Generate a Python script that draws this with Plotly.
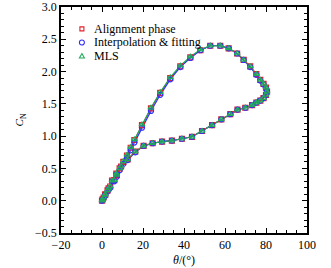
import plotly.graph_objects as go

# Alignment phase (red squares)
theta_align = [0, 0.8, 1.6, 2.7, 4.0, 6.0, 7.2, 8.6, 10.4, 12.2, 14.0, 15.8, 19.5, 23.9, 28.4,
               33.3, 38.2, 43.1, 48.0, 52.8, 57.7, 61.8, 65.9, 69.1, 72.3, 75.3, 77.2, 78.8, 80.0,
               80.5, 80.0, 78.8, 77.2, 75.3, 73.2, 69.9, 66.1, 62.6, 58.2, 53.7, 48.8, 43.9, 39.0,
               34.1, 29.3, 24.7, 20.3, 16.2, 12.5, 9.3, 7.0, 4.9, 3.2, 1.5, 0.3]
cn_align = [0.0, 0.05, 0.10, 0.16, 0.22, 0.32, 0.40, 0.50, 0.60, 0.70, 0.82, 0.94, 1.17, 1.43, 1.67,
            1.90, 2.08, 2.22, 2.33, 2.40, 2.40, 2.36, 2.28, 2.18, 2.08, 1.96, 1.87, 1.81, 1.75,
            1.69, 1.64, 1.59, 1.55, 1.52, 1.48, 1.44, 1.41, 1.34, 1.26, 1.17, 1.08, 0.99, 0.96,
            0.93, 0.915, 0.89, 0.85, 0.76, 0.64, 0.53, 0.42, 0.31, 0.19, 0.09, 0.02]

# Interpolation & fitting (blue circles)
theta_interp = [0, 0.8, 1.6, 2.7, 4.0, 6.0, 7.2, 8.6, 10.4, 12.2, 14.0, 15.8, 19.5, 23.9, 28.4,
                33.3, 38.2, 43.1, 48.0, 52.8, 57.7, 61.8, 65.9, 69.1, 72.3, 75.3, 77.2, 78.8, 80.0,
                80.5, 80.0, 78.8, 77.2, 75.3, 73.2, 69.9, 66.1, 62.6, 58.2, 53.7, 48.8, 43.9, 39.0,
                34.1, 29.3, 24.7, 20.3, 16.2, 12.5, 9.3, 7.0, 4.9, 3.2, 1.5, 0.3]
cn_interp = [0.0, 0.04, 0.09, 0.14, 0.20, 0.30, 0.37, 0.47, 0.57, 0.66, 0.78, 0.90, 1.13, 1.39, 1.64,
             1.88, 2.07, 2.21, 2.33, 2.40, 2.40, 2.36, 2.28, 2.18, 2.07, 1.95, 1.86, 1.80, 1.74,
             1.69, 1.64, 1.59, 1.55, 1.52, 1.48, 1.44, 1.41, 1.34, 1.26, 1.17, 1.08, 0.99, 0.96,
             0.93, 0.915, 0.89, 0.85, 0.75, 0.63, 0.52, 0.41, 0.30, 0.18, 0.08, 0.01]

# MLS (green triangles)
theta_mls = [0, 0.8, 1.6, 2.7, 4.0, 6.0, 7.2, 8.6, 10.4, 12.2, 14.0, 15.8, 19.5, 23.9, 28.4,
             33.3, 38.2, 43.1, 48.0, 52.8, 57.7, 61.8, 65.9, 69.1, 72.3, 75.3, 77.2, 78.8, 80.0,
             80.5, 80.0, 78.8, 77.2, 75.3, 73.2, 69.9, 66.1, 62.6, 58.2, 53.7, 48.8, 43.9, 39.0,
             34.1, 29.3, 24.7, 20.3, 16.2, 12.5, 9.3, 7.0, 4.9, 3.2, 1.5, 0.3]
cn_mls = [0.0, 0.05, 0.10, 0.16, 0.22, 0.32, 0.40, 0.50, 0.61, 0.71, 0.83, 0.95, 1.18, 1.44, 1.68,
          1.91, 2.09, 2.23, 2.34, 2.40, 2.40, 2.36, 2.28, 2.18, 2.08, 1.96, 1.87, 1.81, 1.75,
          1.69, 1.64, 1.59, 1.55, 1.52, 1.48, 1.44, 1.41, 1.34, 1.26, 1.17, 1.08, 0.99, 0.96,
          0.93, 0.915, 0.89, 0.85, 0.76, 0.64, 0.53, 0.42, 0.31, 0.19, 0.09, 0.02]

series_names = ["Alignment phase", "Interpolation & fitting", "MLS"]
x_ticks = [-20, 0, 20, 40, 60, 80, 100]
y_ticks = [-0.5, 0.0, 0.5, 1.0, 1.5, 2.0, 2.5, 3.0]
y_tick_text = ["\u22120.5", "0.0", "0.5", "1.0", "1.5", "2.0", "2.5", "3.0"]
x_title = "<i>θ</i>/(°)"
y_title = "<i>C</i><sub>N</sub>"

colors = ["#e0202a", "#3030ff", "#1faa5a"]
symbols = ["square-open", "circle-open", "triangle-up-open"]
data = [(theta_align, cn_align), (theta_interp, cn_interp), (theta_mls, cn_mls)]

fig = go.Figure()
for (xs, ys), col in zip(data, colors):
    fig.add_trace(go.Scatter(x=xs, y=ys, mode="lines", line=dict(color=col, width=1.2),
                             showlegend=False, hoverinfo="skip"))
for name, (xs, ys), col, sym in zip(series_names, data, colors, symbols):
    fig.add_trace(go.Scatter(x=xs, y=ys, mode="markers", name=name, showlegend=False,
                             marker=dict(symbol=sym, size=5, color=col, line=dict(width=1.2, color=col))))

font = dict(family="Liberation Serif, Times New Roman, serif", size=12, color="black")
axis_common = dict(showgrid=False, zeroline=False, showline=True, linecolor="black", linewidth=1.5,
                   mirror="ticks", ticks="inside", ticklen=5, tickwidth=1.2, tickcolor="black",
                   tickfont=font, automargin=False)
fig.update_xaxes(range=[-20, 100], tickvals=x_ticks,
                 minor=dict(dtick=5, ticks="inside", ticklen=3, tickcolor="black", tickwidth=1),
                 title=dict(text=x_title, font=font, standoff=4), **axis_common)
fig.update_yaxes(range=[-0.5, 3.0], tickvals=y_ticks, ticktext=y_tick_text,
                 minor=dict(dtick=0.1, ticks="inside", ticklen=3, tickcolor="black", tickwidth=1),
                 **axis_common)

# manual legend (marker glyph + text), placed in paper coordinates
legend_x = 0.085
legend_text_x = 0.126
legend_ys = [0.903, 0.843, 0.783]
shapes = []
annotations = []
for i, (name, col) in enumerate(zip(series_names, colors)):
    ly = legend_ys[i]
    common = dict(xref="paper", yref="paper", xsizemode="pixel", ysizemode="pixel",
                  xanchor=legend_x, yanchor=ly, line=dict(color=col, width=1.1))
    if i == 0:
        shapes.append(dict(type="rect", x0=-2, x1=2, y0=-2, y1=2, **common))
    elif i == 1:
        shapes.append(dict(type="circle", x0=-2.5, x1=2.5, y0=-2.5, y1=2.5, **common))
    else:
        shapes.append(dict(type="path", path="M-2.5,-2 L2.5,-2 L0,2.5 Z", **common))
    annotations.append(dict(text=name, x=legend_text_x, y=ly, xref="paper", yref="paper",
                            xanchor="left", yanchor="middle", showarrow=False, font=font))

# y-axis title as rotated text in the left margin
annotations.append(dict(text=y_title, x=-0.165, y=0.50, xref="paper", yref="paper",
                        xanchor="center", yanchor="middle", textangle=-90, showarrow=False,
                        font=dict(family=font["family"], size=11, color="black")))

fig.update_layout(
    width=331, height=268,
    margin=dict(l=61, r=24, t=7, b=35),
    plot_bgcolor="white", paper_bgcolor="white",
    font=font, shapes=shapes, annotations=annotations,
)
fig.write_html("out.html", config={"displayModeBar": False},
               post_script="document.body.style.margin='0';")
